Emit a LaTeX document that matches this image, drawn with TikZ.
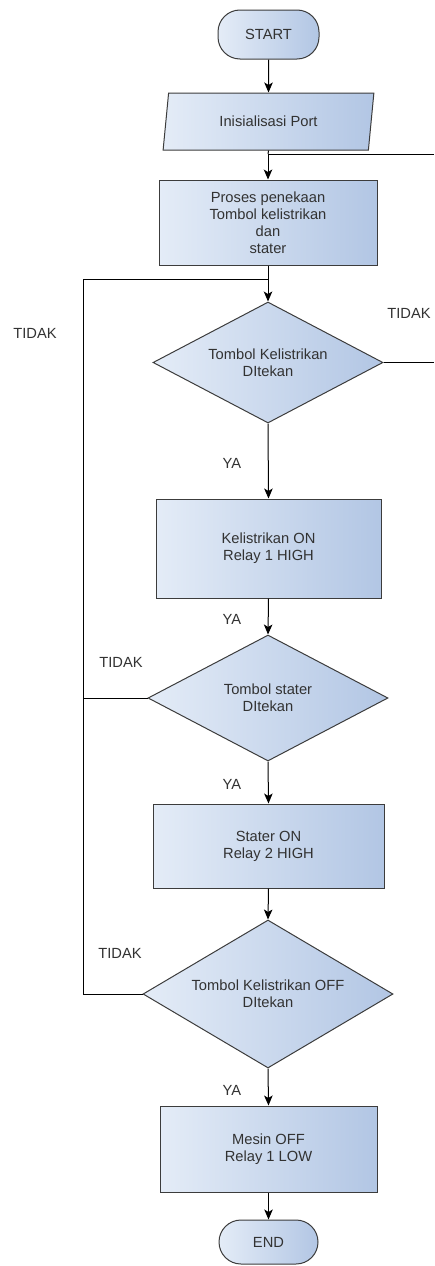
\documentclass[tikz,border=0pt]{standalone}
\usepackage{fontspec}
\setmainfont{Liberation Sans}
\usetikzlibrary{shapes.geometric,arrows.meta}
\definecolor{fillL}{RGB}{228,236,247}
\definecolor{fillR}{RGB}{178,198,228}
\definecolor{edge}{RGB}{60,60,60}
\definecolor{txt}{RGB}{50,50,50}
\tikzset{
  base/.style={draw=edge, line width=1pt, left color=fillL, right color=fillR, text=txt, align=center, inner sep=0pt},
  term/.style={base, rectangle, rounded corners=22pt},
  proc/.style={base, rectangle},
  io/.style={base, trapezium, trapezium left angle=76, trapezium right angle=104, trapezium stretches=true},
  dec/.style={base, diamond, aspect=1.9},
  conn/.style={line width=1pt, draw=black},
  arr/.style={conn, -{Stealth[length=10pt,width=8.5pt,inset=2.5pt]}},
  lbl/.style={text=txt, inner sep=0pt},
}
\begin{document}
\begin{tikzpicture}[x=1pt,y=-1pt, every node/.append style={font=\fontsize{14.7}{17}\selectfont}]
\useasboundingbox (0,0) rectangle (434,1266);
\node[term, minimum width=101pt, minimum height=49pt] (start) at (268.5,34.5) {START};
\node[io, minimum width=211pt, minimum height=57pt] (init) at (268.5,121.5) {Inisialisasi Port};
\node[proc, minimum width=218pt, minimum height=85pt] (p1) at (268,222.5) {Proses penekaan\\Tombol kelistrikan\\dan\\stater};
\node[dec, minimum width=230pt, minimum height=121pt] (d1) at (268,362.5) {Tombol Kelistrikan\\DItekan};
\node[proc, minimum width=225pt, minimum height=99pt] (b2) at (268.5,548.5) {Kelistrikan ON\\Relay 1 HIGH};
\node[dec, minimum width=240pt, minimum height=126pt] (d2) at (268,698) {Tombol stater\\DItekan};
\node[proc, minimum width=231pt, minimum height=84pt] (b3) at (268.5,846) {Stater ON\\Relay 2 HIGH};
\node[dec, aspect=1.69, minimum width=250pt, minimum height=148pt] (d3) at (268,994) {Tombol Kelistrikan OFF\\DItekan};
\node[proc, minimum width=217pt, minimum height=86pt] (b4) at (268.5,1149) {Mesin OFF\\Relay 1 LOW};
\node[term, minimum width=99pt, minimum height=44pt] (end) at (268.5,1242) {END};

\coordinate (j1) at (268,154);
\coordinate (r1) at (434,154);
\coordinate (j2) at (268,279);
\coordinate (l1) at (83,279);
\coordinate (l2) at (83,994);
\coordinate (r2) at (434,362.5);

\draw[arr] (start.south) -- (init.north);
\draw[conn] (init.south) -- (j1);
\draw[conn] (r1) -- (j1);
\draw[arr] (j1) -- (p1.north);
\draw[arr] (p1.south) -- (d1.north);
\draw[conn] (d1.east) -- (r2);
\draw[arr] (d1.south) -- (b2.north);
\draw[arr] (b2.south) -- (d2.north);
\draw[conn] (d2.west) -- (d2.west -| l1);
\draw[arr] (d2.south) -- (b3.north);
\draw[arr] (b3.south) -- (d3.north);
\draw[conn] (d3.west) -- (l2) -- (l1) -- (j2);
\draw[arr] (d3.south) -- (b4.north);
\draw[arr] (b4.south) -- (end.north);

\node[lbl] (t1) at (409,313) {TIDAK};
\node[lbl] (t2) at (35,333) {TIDAK};
\node[lbl] (y1) at (232,463) {YA};
\node[lbl] (y2) at (232,619) {YA};
\node[lbl] (t3) at (121,662) {TIDAK};
\node[lbl] (y3) at (232,784) {YA};
\node[lbl] (t4) at (120,953) {TIDAK};
\node[lbl] (y4) at (232,1090) {YA};
\end{tikzpicture}
\end{document}
